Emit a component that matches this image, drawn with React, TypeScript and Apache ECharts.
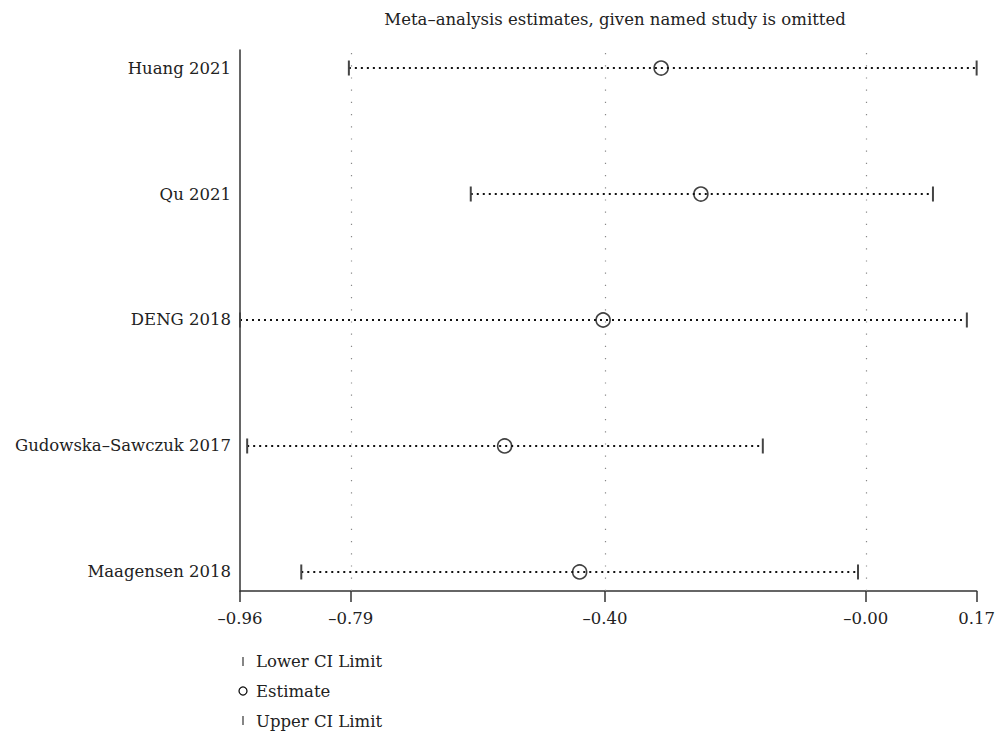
import React, { useEffect, useRef } from "react";
import * as echarts from "echarts";

// Leave-one-out meta-analysis: estimate and 95% CI with each study omitted
const studies = ["Huang 2021", "Qu 2021", "DENG 2018", "Gudowska–Sawczuk 2017", "Maagensen 2018"];
const lowerCI = [-0.793, -0.606, -0.96, -0.949, -0.866];
const estimates = [-0.314, -0.253, -0.403, -0.554, -0.439];
const upperCI = [0.17, 0.103, 0.155, -0.158, -0.012];

const tickValues = [-0.96, -0.79, -0.4, 0, 0.17];
const tickLabels = ["–0.96", "–0.79", "–0.40", "–0.00", "0.17"];
const gridValues = [-0.79, -0.4, 0];

const legendItems = ["Lower CI Limit", "Estimate", "Upper CI Limit"];

const FONT = "'DejaVu Serif', 'Liberation Serif', serif";

export default function App() {
  const ref = useRef<HTMLDivElement>(null);

  useEffect(() => {
    document.body.style.margin = "0";
    document.body.style.overflow = "hidden";
    if (!ref.current) return;
    const chart = echarts.init(ref.current, undefined, { renderer: "svg" });

    const rows = studies.map((_, i) => studies.length - i);
    const ciData = studies.map((_, i) => [lowerCI[i], upperCI[i], rows[i]]);
    const estData = studies.map((_, i) => [estimates[i], rows[i]]);

    const legendText = (i: number, y: number) => ({
      type: "text",
      x: 256,
      y,
      style: { text: legendItems[i], font: `16.5px ${FONT}`, fill: "#222", textVerticalAlign: "middle" },
    });

    const option: any = {
      animation: false,
      backgroundColor: "#ffffff",
      textStyle: { fontFamily: FONT },
      title: {
        text: "Meta–analysis estimates, given named study is omitted",
        left: 610,
        top: 6,
        textAlign: "center",
        textStyle: { fontFamily: FONT, fontSize: 16.5, fontWeight: "normal", color: "#222" },
      },
      grid: { left: 240, right: 21, top: 50, bottom: 148 },
      xAxis: {
        type: "value",
        min: -0.96,
        max: 0.17,
        axisLine: { show: true, onZero: false, lineStyle: { color: "#333", width: 1.5 } },
        axisTick: { show: true, length: 11, customValues: tickValues, lineStyle: { color: "#333", width: 1.5 } },
        axisLabel: {
          customValues: tickValues,
          margin: 19,
          fontSize: 16.5,
          color: "#222",
          fontFamily: FONT,
          formatter: (v: number) => {
            const idx = tickValues.findIndex((t) => Math.abs(t - v) < 1e-9);
            return idx >= 0 ? tickLabels[idx] : "";
          },
        },
        splitLine: { show: false },
      },
      yAxis: {
        type: "value",
        min: 0.849,
        max: 5.143,
        axisLine: { show: true, onZero: false, lineStyle: { color: "#333", width: 1.5 } },
        axisTick: { show: false },
        axisLabel: {
          customValues: rows,
          margin: 9,
          fontSize: 16.5,
          color: "#222",
          fontFamily: FONT,
          formatter: (v: number) => studies[studies.length - Math.round(v)] ?? "",
        },
        splitLine: { show: false },
      },
      series: [
        {
          type: "scatter",
          name: "grid",
          data: [],
          silent: true,
          z: 1,
          markLine: {
            silent: true,
            symbol: "none",
            label: { show: false },
            lineStyle: { color: "#888", width: 1.2, type: [1.2, 11] },
            data: gridValues.map((v) => ({ xAxis: v })),
          },
        },
        {
          type: "custom",
          name: "CI",
          z: 3,
          data: ciData,
          encode: { x: [0, 1], y: 2 },
          renderItem: (_params: any, api: any) => {
            const row = api.value(2);
            const p1 = api.coord([api.value(0), row]);
            const p2 = api.coord([api.value(1), row]);
            const h = 7.5;
            return {
              type: "group",
              children: [
                {
                  type: "line",
                  shape: { x1: p1[0], y1: p1[1], x2: p2[0], y2: p2[1] },
                  style: { stroke: "#111", lineWidth: 2, lineDash: [2, 4] },
                },
                {
                  type: "line",
                  shape: { x1: p1[0], y1: p1[1] - h, x2: p1[0], y2: p1[1] + h },
                  style: { stroke: "#444", lineWidth: 2 },
                },
                {
                  type: "line",
                  shape: { x1: p2[0], y1: p2[1] - h, x2: p2[0], y2: p2[1] + h },
                  style: { stroke: "#444", lineWidth: 2 },
                },
              ],
            };
          },
        },
        {
          type: "scatter",
          name: "Estimate",
          z: 4,
          data: estData,
          symbol: "circle",
          symbolSize: 14,
          itemStyle: { color: "rgba(0,0,0,0)", borderColor: "#111", borderWidth: 1.6 },
        },
      ],
      graphic: [
        {
          type: "line",
          shape: { x1: 243, y1: 657, x2: 243, y2: 666 },
          style: { stroke: "#444", lineWidth: 1.3 },
        },
        legendText(0, 661),
        {
          type: "circle",
          shape: { cx: 243, cy: 691, r: 4 },
          style: { fill: "none", stroke: "#111", lineWidth: 1.3 },
        },
        legendText(1, 691),
        {
          type: "line",
          shape: { x1: 243, y1: 716, x2: 243, y2: 725 },
          style: { stroke: "#444", lineWidth: 1.3 },
        },
        legendText(2, 721),
      ],
    };

    chart.setOption(option);
    return () => chart.dispose();
  }, []);

  return (
    <div
      ref={ref}
      style={{ position: "absolute", left: 0, top: 0, width: 998, height: 739 }}
    />
  );
}
